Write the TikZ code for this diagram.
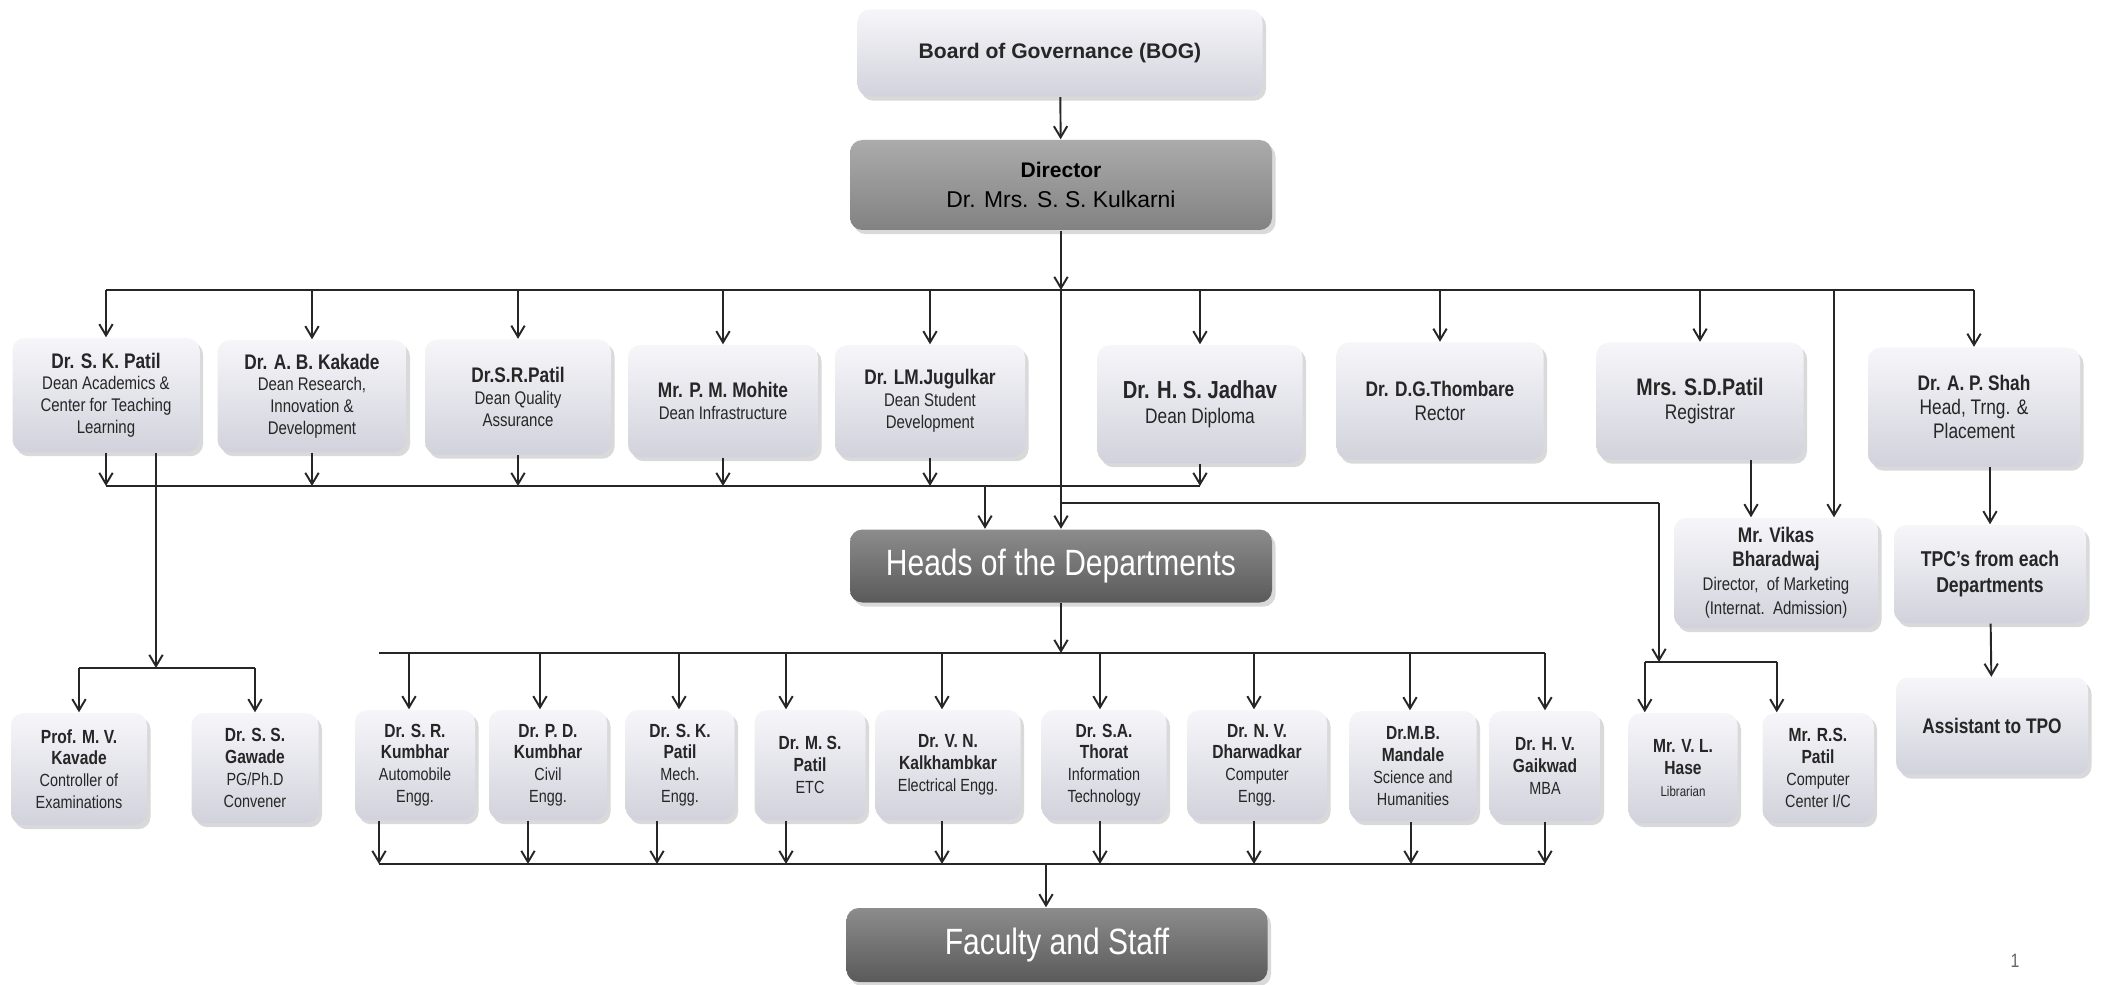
\documentclass[tikz,border=0pt]{standalone}
\usepackage{fontspec}
\setmainfont{Liberation Sans}[FakeStretch=0.82]
\newfontfamily\widesans{Liberation Sans}
\usetikzlibrary{arrows.meta,shadows,calc}
\definecolor{lighttop}{HTML}{F6F6FA}
\definecolor{lightbot}{HTML}{D2D2DC}
\definecolor{midtop}{HTML}{ABABAB}
\definecolor{midbot}{HTML}{828282}
\definecolor{darktop}{HTML}{8C8C8C}
\definecolor{darkbot}{HTML}{5A5A5A}
\definecolor{linecol}{HTML}{262626}
\newcommand{\nm}[2][6]{{\fontsize{#1}{#1}\selectfont\bfseries #2}}

\begin{document}
\begin{tikzpicture}[x=0.01cm,y=-0.01cm,
  >={Straight Barb[length=3.2pt,width=3.8pt]},
  conn/.style={draw=linecol,line width=0.55pt},
  sz/.style 2 args={minimum width=#1*0.01cm,minimum height=#2*0.01cm},
  lbox/.style={rounded corners=3.5pt,top color=lighttop,bottom color=lightbot,
    drop shadow={opacity=0.3,shadow xshift=1pt,shadow yshift=-1.2pt},
    align=center,inner sep=1pt,text=black!85,font=\fontsize{5.2}{6.2}\selectfont},
  mbox/.style={lbox,top color=midtop,bottom color=midbot,text=black},
  dbox/.style={lbox,top color=darktop,bottom color=darkbot,text=white,
    font=\fontsize{10.4}{12}\selectfont},
  dept/.style={lbox,font=\fontsize{5}{6.2}\selectfont}]
\useasboundingbox (0,0) rectangle (2102,985);

\node[lbox,sz={405}{87},font=\widesans\fontsize{6}{7}\selectfont\bfseries] (bog) at (1060,53) {Board of Governance (BOG)};
\node[mbox,sz={422}{90},font=\widesans\fontsize{6.5}{8.6}\selectfont] (dir) at (1061,185) {\nm{Director}\\Dr. Mrs. S. S. Kulkarni};

\node[lbox,sz={187}{114}] (skp) at (106,395) {\nm{Dr. S. K. Patil}\\Dean Academics \&\\Center for Teaching\\Learning};
\node[lbox,sz={189}{112}] (abk) at (312,396) {\nm{Dr. A. B. Kakade}\\Dean Research,\\Innovation \&\\Development};
\node[lbox,sz={186}{115}] (srp) at (518,397) {\nm{Dr.S.R.Patil}\\Dean Quality\\Assurance};
\node[lbox,sz={190}{112}] (pmm) at (723,401) {\nm{Mr. P. M. Mohite}\\Dean Infrastructure};
\node[lbox,sz={190}{112}] (lmj) at (930,401) {\nm{Dr. LM.Jugulkar}\\Dean Student\\Development};
\node[lbox,sz={205}{118},font=\fontsize{6}{7}\selectfont] (hsj) at (1200,404) {\nm[7]{Dr. H. S. Jadhav}\\Dean Diploma};
\node[lbox,sz={207}{117},font=\fontsize{6}{7}\selectfont] (dgt) at (1440,401) {\nm{Dr. D.G.Thombare}\\Rector};
\node[lbox,sz={207}{117},font=\fontsize{6}{7}\selectfont] (sdp) at (1700,401) {\nm[6.8]{Mrs. S.D.Patil}\\Registrar};
\node[lbox,sz={212}{119},font=\fontsize{6}{6.8}\selectfont] (aps) at (1974,407) {\nm{Dr. A. P. Shah}\\Head, Trng. \&\\Placement};

\node[lbox,sz={204}{110},font=\fontsize{5.2}{6.8}\selectfont] (vikas) at (1776,573) {\nm{Mr. Vikas}\\\nm{Bharadwaj}\\Director,\ \ of Marketing\\(Internat.\ \ Admission)};
\node[lbox,sz={192}{98},font=\fontsize{6.1}{7.6}\selectfont\bfseries] (tpc) at (1990,574) {TPC’s from each\\Departments};
\node[lbox,sz={192}{97},font=\fontsize{6}{7}\selectfont\bfseries] (ast) at (1992,726) {Assistant to TPO};

\node[dbox,sz={422}{73}] (heads) at (1061,566) {Heads of the Departments};
\node[dbox,sz={421}{74}] (fac) at (1057,945) {Faculty and Staff};

\node[dept,sz={136}{112}] (kav) at (79,769) {\nm[5.4]{Prof. M. V.}\\\nm[5.4]{Kavade}\\Controller of\\Examinations};
\node[dept,sz={127}{110}] (gaw) at (255,768) {\nm[5.4]{Dr. S. S.}\\\nm[5.4]{Gawade}\\PG/Ph.D\\Convener};
\node[dept,sz={120}{110}] (srk) at (415,765) {\nm[5.4]{Dr. S. R.}\\\nm[5.4]{Kumbhar}\\Automobile\\Engg.};
\node[dept,sz={118}{110}] (pdk) at (548,765) {\nm[5.4]{Dr. P. D.}\\\nm[5.4]{Kumbhar}\\Civil\\Engg.};
\node[dept,sz={109}{110}] (skpm) at (680,765) {\nm[5.4]{Dr. S. K.}\\\nm[5.4]{Patil}\\Mech.\\Engg.};
\node[dept,sz={111}{110}] (msp) at (810,765) {\nm[5.4]{Dr. M. S.}\\\nm[5.4]{Patil}\\ETC};
\node[dept,sz={145}{110}] (vnk) at (948,765) {\nm[5.4]{Dr. V. N.}\\\nm[5.4]{Kalkhambkar}\\Electrical Engg.};
\node[dept,sz={125}{110}] (sat) at (1104,765) {\nm[5.4]{Dr. S.A.}\\\nm[5.4]{Thorat}\\Information\\Technology};
\node[dept,sz={140}{110}] (nvd) at (1257,765) {\nm[5.4]{Dr. N. V.}\\\nm[5.4]{Dharwadkar}\\Computer\\Engg.};
\node[dept,sz={127}{110}] (mbm) at (1413,766) {\nm[5.4]{Dr.M.B.}\\\nm[5.4]{Mandale}\\Science and\\Humanities};
\node[dept,sz={111}{110}] (hvg) at (1545,766) {\nm[5.4]{Dr. H. V.}\\\nm[5.4]{Gaikwad}\\MBA};
\node[dept,sz={109}{110}] (hase) at (1683,768) {\nm[5.4]{Mr. V. L.}\\\nm[5.4]{Hase}\\{\fontsize{4}{5}\selectfont Librarian}};
\node[dept,sz={111}{110}] (rsp) at (1818,768) {\nm[5.4]{Mr. R.S.}\\\nm[5.4]{Patil}\\Computer\\Center I/C};

\node[text=black!60,font=\fontsize{5.5}{6}\selectfont] (pg) at (2015,961) {1};

\coordinate (top) at (0,290);
\coordinate (mid) at (0,486);
\coordinate (kb) at (0,668);
\coordinate (lb) at (1659,503);
\coordinate (hb) at (1659,662);
\coordinate (db) at (379,653);
\coordinate (fb) at (379,864);

\draw[conn,->] (bog) -- (dir);
\draw[conn,->] (dir) -- (dir |- top);
\draw[conn,->] (dir |- top) -- (heads);
\draw[conn] (skp.north |- top) -- (aps.north |- top);
\foreach \n in {skp,abk,srp,pmm,lmj,hsj,dgt,sdp,aps}
\draw[conn,->] (\n.north |- top) -- (\n.north);

\draw[conn] (skp.south |- mid) -- (hsj.south |- mid);
\foreach \n in {skp,abk,srp,pmm,lmj,hsj}
\draw[conn,->] (\n.south) -- (\n.south |- mid);
\coordinate (hin) at ($(heads.north)+(-76,0)$);
\draw[conn,->] (hin |- mid) -- (hin);

\coordinate (ka) at ($(skp.south)+(50,0)$);
\draw[conn,->] (ka) -- (ka |- kb);
\draw[conn] (kav.north |- kb) -- (gaw.north |- kb);
\foreach \n in {kav,gaw}
\draw[conn,->] (\n.north |- kb) -- (\n.north);

\draw[conn] (dir |- lb) -- (lb);
\draw[conn,->] (lb) -- (hb);
\coordinate (ha) at ($(hase.north west)+(17,0)$);
\coordinate (ra) at ($(rsp.north west)+(15,0)$);
\draw[conn] (ha |- hb) -- (ra |- hb);
\foreach \c in {ha,ra}
\draw[conn,->] (\c |- hb) -- (\c);

\coordinate (va) at ($(sdp.south)+(51,0)$);
\draw[conn,->] (va) -- (va |- vikas.north);
\coordinate (vb) at ($(vikas.north)+(58,0)$);
\draw[conn,->] (vb |- top) -- (vb);
\draw[conn,->] (aps.south -| tpc.north) -- (tpc.north);
\draw[conn,->] (tpc) -- (ast);

\draw[conn,->] (heads) -- (heads |- db);
\draw[conn] (db) -- (db -| hvg.north);
\foreach \n/\i/\o in {srk/-6/-36,pdk/-8/-20,skpm/-1/-23,msp/-24/-24,vnk/-6/-6,sat/-4/-4,nvd/-3/-3,mbm/-3/-2,hvg/0/0}{
\coordinate (a) at ($(\n.north)+(\i,0)$);
\coordinate (b) at ($(\n.south)+(\o,0)$);
\draw[conn,->] (a |- db) -- (a);
\draw[conn,->] (b) -- (b |- fb);
}
\draw[conn] (fb) -- (fb -| hvg.south);
\coordinate (fa) at ($(fac.north)+(-11,0)$);
\draw[conn,->] (fa |- fb) -- (fa);
\end{tikzpicture}
\end{document}
